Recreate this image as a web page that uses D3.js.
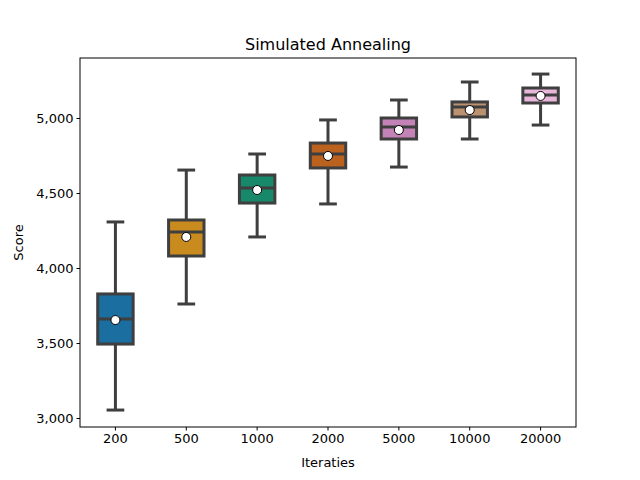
<!DOCTYPE html>
<html><head><meta charset="utf-8">
<script src="https://cdn.jsdelivr.net/npm/d3@7"></script>
<style>body{margin:0;background:#fff}text{font-family:"DejaVu Sans",sans-serif}</style>
</head><body><div id="chart"></div>
<script>
const categories = ["200", "500", "1000", "2000", "5000", "10000", "20000"];
const whiskerLow = [3053, 3760, 4207, 4427, 4673, 4860, 4953];
const q1 = [3493, 4080, 4433, 4667, 4860, 5007, 5100];
const medians = [3660, 4240, 4533, 4760, 4940, 5073, 5153];
const q3 = [3827, 4320, 4620, 4833, 5000, 5107, 5200];
const whiskerHigh = [4307, 4653, 4760, 4987, 5120, 5240, 5293];
const means = [3653, 4207, 4520, 4747, 4920, 5053, 5147];
const colors = ["#1a6ea0", "#c98b1e", "#17896a", "#bb621e", "#c383b6", "#bb9270", "#e7b6d9"];
const yTicks = [3000, 3500, 4000, 4500, 5000];

const W = 640, H = 480;
const margin = {top: 58, right: 64, bottom: 53, left: 80};
const width = W - margin.left - margin.right, height = H - margin.top - margin.bottom;

const svg = d3.select("#chart").append("svg").attr("width", W).attr("height", H)
  .append("g").attr("transform", `translate(${margin.left},${margin.top})`);

const x = d3.scaleBand().domain(categories).range([0, width]).padding(0);
const y = d3.scaleLinear().domain([2940, 5400]).range([height, 0]);

const data = categories.map((c, i) => ({c, lo: whiskerLow[i], q1: q1[i], med: medians[i], q3: q3[i], hi: whiskerHigh[i], mean: means[i], color: colors[i]}));

const lc = "#3f3f3f", lw = 3;
const bw = x.bandwidth() * 0.5, cap = bw * 0.5;
const g = svg.selectAll(".box").data(data).enter().append("g")
  .attr("transform", d => `translate(${x(d.c) + x.bandwidth() / 2},0)`);

g.append("line").attr("y1", d => y(d.lo)).attr("y2", d => y(d.q1)).attr("stroke", lc).attr("stroke-width", lw);
g.append("line").attr("y1", d => y(d.q3)).attr("y2", d => y(d.hi)).attr("stroke", lc).attr("stroke-width", lw);
g.append("line").attr("x1", -cap / 2).attr("x2", cap / 2).attr("y1", d => y(d.lo)).attr("y2", d => y(d.lo)).attr("stroke", lc).attr("stroke-width", lw);
g.append("line").attr("x1", -cap / 2).attr("x2", cap / 2).attr("y1", d => y(d.hi)).attr("y2", d => y(d.hi)).attr("stroke", lc).attr("stroke-width", lw);
g.append("rect").attr("x", -bw / 2).attr("width", bw)
  .attr("y", d => y(d.q3)).attr("height", d => y(d.q1) - y(d.q3))
  .attr("fill", d => d.color).attr("stroke", lc).attr("stroke-width", lw);
g.append("line").attr("x1", -bw / 2).attr("x2", bw / 2).attr("y1", d => y(d.med)).attr("y2", d => y(d.med)).attr("stroke", lc).attr("stroke-width", lw);
g.append("circle").attr("cy", d => y(d.mean)).attr("r", 4.5).attr("fill", "#fff").attr("stroke", "#000").attr("stroke-width", 1);

// Assen
const xa = svg.append("g").attr("transform", `translate(0,${height})`).call(d3.axisBottom(x).tickSizeOuter(0).tickSize(3.5));
const ya = svg.append("g").call(d3.axisLeft(y).tickValues(yTicks).tickSizeOuter(0).tickSize(3.5));
[xa, ya].forEach(a => { a.selectAll("text").attr("font-size", 13).attr("fill", "#000"); a.select(".domain").remove(); a.selectAll("line").attr("stroke", "#000"); });
svg.append("rect").attr("width", width).attr("height", height).attr("fill", "none").attr("stroke", "#000").attr("stroke-width", 1);

svg.append("text").attr("x", width / 2).attr("y", -8).attr("text-anchor", "middle").attr("font-size", 16).text("Simulated Annealing");
svg.append("text").attr("x", width / 2).attr("y", height + 40).attr("text-anchor", "middle").attr("font-size", 13).text("Iteraties");
svg.append("text").attr("transform", "rotate(-90)").attr("x", -height / 2).attr("y", -57).attr("text-anchor", "middle").attr("font-size", 13).text("Score");
</script></body></html>
